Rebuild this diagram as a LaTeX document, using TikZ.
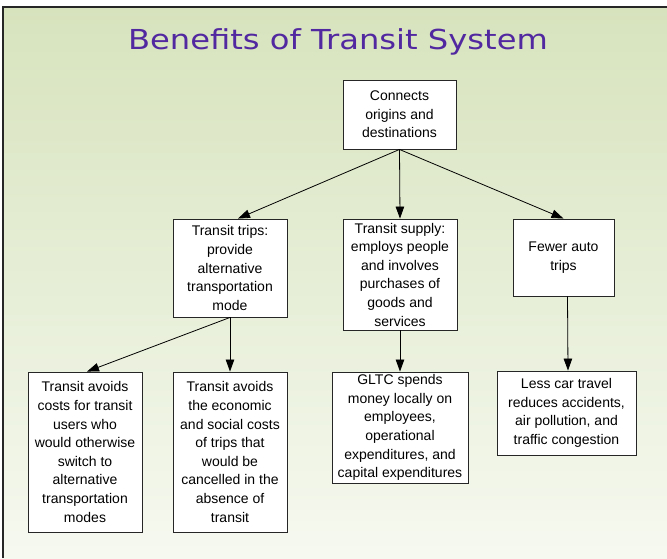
\documentclass[tikz,border=0pt]{standalone}
\usepackage{fontspec}
\setmainfont{Liberation Sans}
\newfontfamily\titlefont{DejaVu Sans}
\usetikzlibrary{arrows.meta}
\definecolor{bgtop}{RGB}{215,227,189}
\definecolor{bgbot}{RGB}{246,249,240}
\definecolor{titlecol}{RGB}{82,40,160}
\tikzset{
  box/.style={draw=black!85, line width=0.9pt, fill=white, align=center, inner sep=0pt,
    font=\fontsize{14}{18.6}\selectfont},
  conn/.style={draw=black, line width=0.8pt, -{Triangle[length=12pt,width=8.5pt]}}
}
\begin{document}
\begin{tikzpicture}[x=1pt,y=-1pt]
\useasboundingbox (0,0) rectangle (667,558);
\fill[white] (0,0) rectangle (667,558);
\shade[top color=bgtop, bottom color=bgbot] (2,7) rectangle (667,558);
\draw[black!85, line width=2pt] (667,7) -- (3,7) -- (3,558);
\node[anchor=base, text=titlecol, font=\titlefont\fontsize{27.5}{30}\selectfont] (title) at (338,49) {\scalebox{1.17}[1]{Benefits of Transit System}};
\node[box, minimum width=113pt, minimum height=69pt] (top) at (399.5,114.5) {Connects\\origins and\\destinations};
\node[box, minimum width=114pt, minimum height=98pt] (trips) at (230,268) {Transit trips:\\provide\\alternative\\transportation\\mode};
\node[box, minimum width=114pt, minimum height=111pt] (supply) at (400,274.5) {Transit supply:\\employs people\\and involves\\purchases of\\goods and\\services};
\node[box, minimum width=101pt, minimum height=77pt] (fewer) at (563.5,257.5) {Fewer auto\\trips};
\node[box, minimum width=114pt, minimum height=160pt] (costs) at (85,452) {Transit avoids\\costs for transit\\users who\\would otherwise\\switch to\\alternative\\transportation\\modes};
\node[box, minimum width=114pt, minimum height=160pt] (econ) at (230,452) {Transit avoids\\the economic\\and social costs\\of trips that\\would be\\cancelled in the\\absence of\\transit};
\node[box, minimum width=136pt, minimum height=111pt] (gltc) at (400,427.5) {GLTC spends\\money locally on\\employees,\\operational\\expenditures, and\\capital expenditures};
\node[box, minimum width=139pt, minimum height=84pt] (less) at (566.5,413) {Less car travel\\reduces accidents,\\air pollution, and\\traffic congestion};
\draw[conn] (top.south) -- ([xshift=8pt]trips.north);
\draw[conn] (top.south) -- (supply.north);
\draw[conn] (top.south) -- (fewer.north);
\draw[conn] (trips.south) -- ([xshift=2pt]costs.north);
\draw[conn] (trips.south) -- (econ.north);
\draw[conn] (supply.south) -- (gltc.north);
\draw[conn] ([xshift=4pt]fewer.south) -- ([xshift=1.5pt]less.north);
\end{tikzpicture}
\end{document}
